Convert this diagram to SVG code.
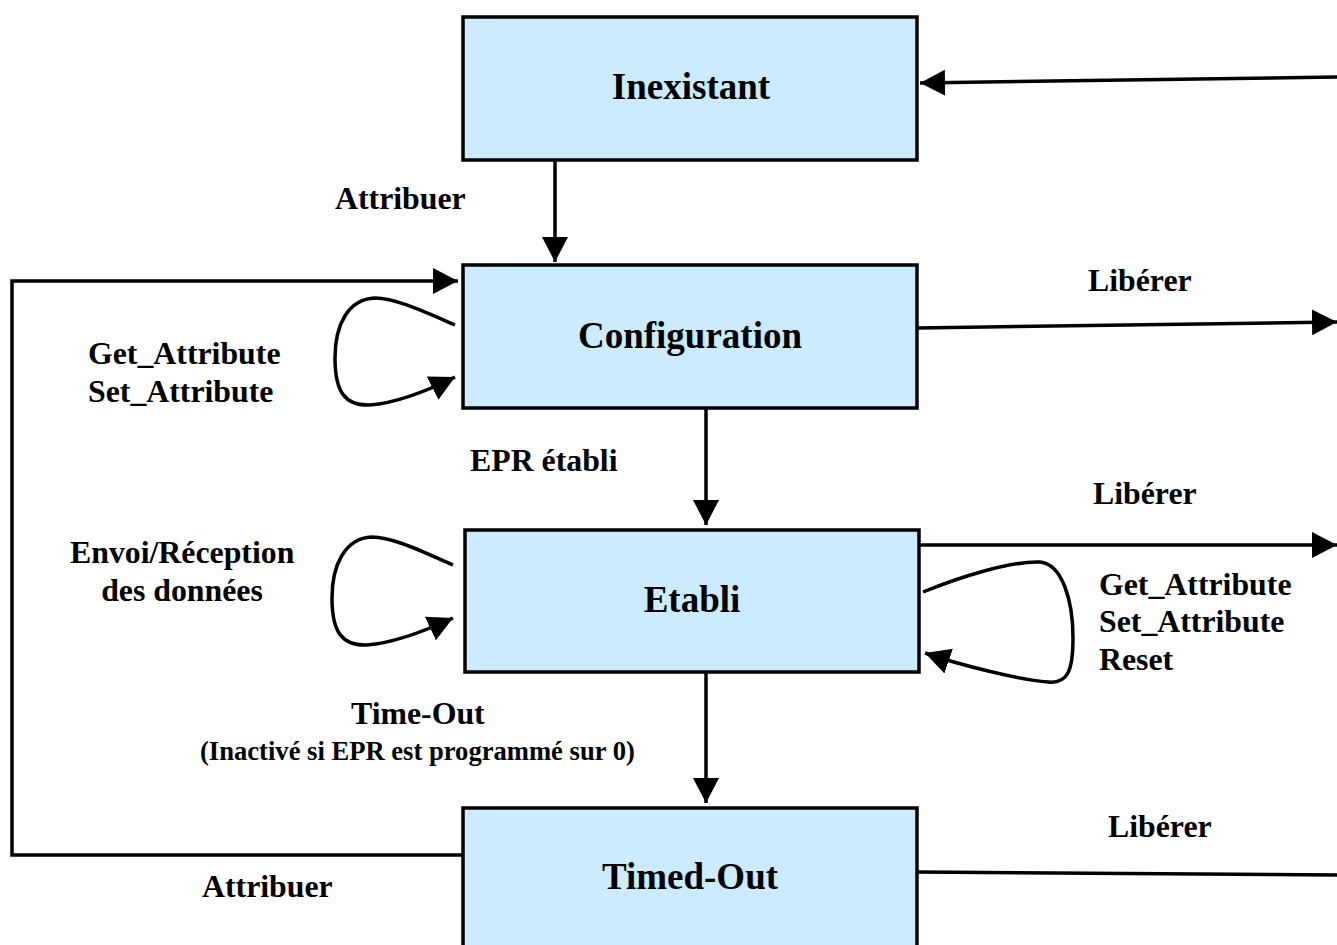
<svg xmlns="http://www.w3.org/2000/svg" width="1337" height="945" viewBox="0 0 1337 945">
<style>
.box{fill:#CCEBFF;stroke:#000;stroke-width:3.5}
.ln{fill:none;stroke:#000;stroke-width:3.5}
.nl{font-family:"Liberation Serif",serif;font-weight:bold;font-size:37px;text-anchor:middle;fill:#000}
.lb{font-family:"Liberation Serif",serif;font-weight:bold;font-size:31.8px;fill:#000}
.sm{font-family:"Liberation Serif",serif;font-weight:bold;font-size:26.6px;fill:#000}
</style>
<defs>
<marker id="ah" markerUnits="userSpaceOnUse" markerWidth="28" markerHeight="28" refX="25" refY="13" orient="auto">
<path d="M0,0 L25,13 L0,26 z" fill="#000"/>
</marker>
</defs>
<rect width="1337" height="945" fill="#fff"/>
<g id="connectors">
<path class="ln" d="M555,160 L555,262" marker-end="url(#ah)"/>
<path class="ln" d="M1337,77 L920,83" marker-end="url(#ah)"/>
<path class="ln" d="M917,328 L1337,322" marker-end="url(#ah)"/>
<path class="ln" d="M706,408 L706,525" marker-end="url(#ah)"/>
<path class="ln" d="M919,545 L1337,545" marker-end="url(#ah)"/>
<path class="ln" d="M706,672 L706,803" marker-end="url(#ah)"/>
<path class="ln" d="M917,872 L1337,875"/>
<path class="ln" d="M462,855 L12,855 L12,281 L458,281" marker-end="url(#ah)"/>
<path class="ln" d="M455,325 C425,312 395,298 375,298 C348,299 335,325 335,358 C335,392 345,406 370,405 C395,403 425,392 455,377" marker-end="url(#ah)"/>
<path class="ln" d="M453,565 C423,552 393,537 372,537 C345,538 332,565 332,598 C332,632 342,646 367,645 C392,643 423,632 453,618" marker-end="url(#ah)"/>
<path class="ln" d="M923,592 C960,577 1010,561 1040,562 C1062,564 1073,600 1073,638 C1073,670 1068,684 1048,682 C1020,680 960,665 925,653" marker-end="url(#ah)"/>
</g>
<g id="inexistant"><rect class="box" x="463" y="17" width="454" height="143"/><text class="nl" x="691" y="99">Inexistant</text></g>
<g id="configuration"><rect class="box" x="463" y="265" width="454" height="143"/><text class="nl" x="690" y="348">Configuration</text></g>
<g id="etabli"><rect class="box" x="465" y="530" width="454" height="142"/><text class="nl" x="692" y="612">Etabli</text></g>
<g id="timed-out"><rect class="box" x="463" y="808" width="454" height="150"/><text class="nl" x="690" y="889">Timed-Out</text></g>
<g id="labels">
<text class="lb" x="335" y="209">Attribuer</text>
<text class="lb" x="1088" y="291">Libérer</text>
<text class="lb" x="88" y="364">Get_Attribute</text>
<text class="lb" x="88" y="402">Set_Attribute</text>
<text class="lb" x="470" y="471">EPR établi</text>
<text class="lb" x="1093" y="504">Libérer</text>
<text class="lb" x="70" y="563">Envoi/Réception</text>
<text class="lb" x="182" y="601" text-anchor="middle">des données</text>
<text class="lb" x="1099" y="595">Get_Attribute</text>
<text class="lb" x="1099" y="632">Set_Attribute</text>
<text class="lb" x="1099" y="670">Reset</text>
<text class="lb" x="351" y="724">Time-Out</text>
<text class="sm" x="200" y="760">(Inactivé si EPR est programmé sur 0)</text>
<text class="lb" x="1108" y="837">Libérer</text>
<text class="lb" x="202" y="897">Attribuer</text>
</g>
</svg>
